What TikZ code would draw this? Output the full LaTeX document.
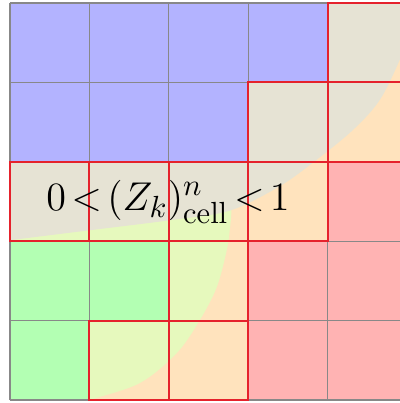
\documentclass[tikz,border=0pt]{standalone}
\usepackage{amsmath}
\definecolor{cblue}{HTML}{B3B3FF}
\definecolor{cgreen}{HTML}{B3FFB3}
\definecolor{cred}{HTML}{FFB3B3}
\definecolor{cbeige}{HTML}{E6E3D4}
\definecolor{corange}{HTML}{FFE3BD}
\definecolor{cyellow}{HTML}{E6F9BD}
\definecolor{cgrid}{HTML}{888888}
\definecolor{cborder}{HTML}{E5222C}
\tikzset{
  gridline/.style={draw=cgrid, line width=0.45pt},
  ifline/.style={draw=cborder, line width=0.7pt},
  bluecell/.style={fill=cblue},
  greencell/.style={fill=cgreen},
  redcell/.style={fill=cred},
}
\begin{document}
\begin{tikzpicture}[x=1cm,y=1cm]
\useasboundingbox (-0.1258,-0.0377) rectangle (4.906,5.0377);
% pure cells
\foreach \c/\r in {0/4,1/4,2/4,3/4,0/3,1/3,2/3}
  \fill[bluecell] (\c,\r) rectangle +(1,1);
\foreach \c/\r in {0/1,1/1,0/0}
  \fill[greencell] (\c,\r) rectangle +(1,1);
\foreach \c/\r in {4/2,3/1,4/1,3/0,4/0}
  \fill[redcell] (\c,\r) rectangle +(1,1);
% interface cells
\begin{scope}
  \clip (4,4) rectangle (5,5) (3,3) rectangle (5,4) (0,2) rectangle (4,3)
        (2,1) rectangle (3,2) (1,0) rectangle (3,1);
  \fill[corange] (-0.5,-0.5) rectangle (5.5,5.5);
  \fill[cyellow] (-0.5,-0.5) -- plot[smooth, tension=0.55] coordinates
    {(0.4,-0.2) (1.006,0) (1.635,0.214) (2.10,0.591) (2.39,1.006) (2.604,1.421)
     (2.73,1.887) (2.767,2.138) (2.79,2.4) (2.80,2.9)} -- (-0.5,2.9) -- cycle;
  \fill[cbeige] (-0.5,5.5) -- plot[smooth, tension=0.55] coordinates
    {(-0.3,1.975) (0,2.013) (1.006,2.138) (2.013,2.264) (2.767,2.385) (3.396,2.692)
     (3.836,3.006) (4.314,3.396) (4.654,3.774) (4.906,4.277) (5.05,4.65)}
    -- (5.5,5.5) -- cycle;
\end{scope}
\draw[gridline] (0,0) grid (5,5);
\foreach \c/\r in {4/4,3/3,4/3,0/2,1/2,2/2,3/2,2/1,1/0,2/0}
  \draw[ifline] (\c,\r) rectangle +(1,1);
\node[anchor=base, inner sep=0pt, font=\fontsize{15}{18}\selectfont] (lbl) at (1.99,2.39)
  {\thickmuskip=2.4mu $0<(Z_k)^n_{\mathrm{cell}}<1$};
\end{tikzpicture}
\end{document}
